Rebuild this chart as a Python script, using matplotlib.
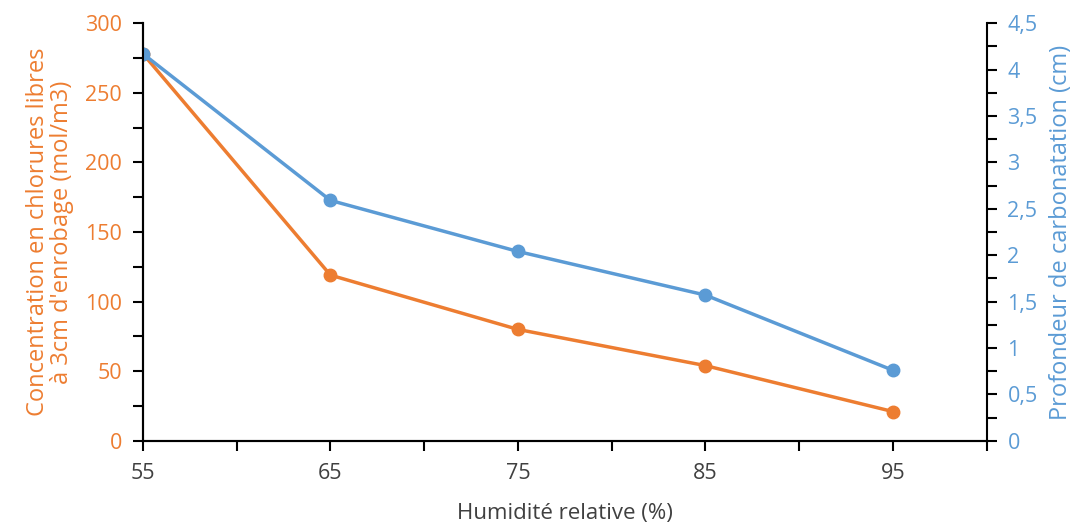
import numpy as np
import matplotlib.pyplot as plt
from matplotlib.ticker import MultipleLocator, FuncFormatter

plt.rcParams['font.family'] = ['Open Sans', 'DejaVu Sans']

humidite = [55, 65, 75, 85, 95]
chlorures = [278, 119, 80, 54, 21]          # mol/m3
carbonatation = [4.17, 2.59, 2.04, 1.57, 0.76]  # cm

orange = "#ED7D31"
bleu = "#5B9BD5"
gris = "#404040"

fig = plt.figure(figsize=(10.83, 5.26), dpi=100)
ax = fig.add_axes([0.132, 0.162, 0.779, 0.794])
ax2 = ax.twinx()

ax.plot(humidite, chlorures, color=orange, lw=2.5, marker="o", ms=9)
ax2.plot(humidite, carbonatation, color=bleu, lw=2.5, marker="o", ms=9)

ax.set_xlim(55, 100)
ax.set_ylim(0, 300)
ax2.set_ylim(0, 4.5)

ax.set_xticks([55, 60, 65, 70, 75, 80, 85, 90, 95, 100])
ax.set_xticklabels(["55", "", "65", "", "75", "", "85", "", "95", ""])
ax.yaxis.set_major_locator(MultipleLocator(50))
ax.yaxis.set_minor_locator(MultipleLocator(25))
ax2.yaxis.set_major_locator(MultipleLocator(0.5))
ax2.yaxis.set_minor_locator(MultipleLocator(0.25))
ax2.yaxis.set_major_formatter(FuncFormatter(lambda v, p: f"{v:g}".replace(".", ",")))

for a in (ax, ax2):
    a.spines["top"].set_visible(False)
    for s in ("left", "right", "bottom"):
        a.spines[s].set_linewidth(1.5)
ax.spines["right"].set_visible(False)

ax.tick_params(axis="x", length=7, width=1.5, colors="black", labelcolor=gris, labelsize=15.5, pad=9)
ax.tick_params(axis="y", which="both", length=7, width=1.5, colors="black", labelcolor=orange, labelsize=15.5, pad=8)
ax2.tick_params(axis="y", which="both", length=7, width=1.5, colors="black", labelcolor=bleu, labelsize=15.5, pad=8)

ax.set_xlabel("Humidité relative (%)", color=gris, fontsize=16, labelpad=14)
ax.set_ylabel("Concentration en chlorures libres\nà 3cm d'enrobage (mol/m3)", color=orange,
              fontsize=17, labelpad=8, linespacing=1.0, multialignment="center")
ax2.set_ylabel("Profondeur de carbonatation (cm)", color=bleu, fontsize=17, labelpad=8)

fig.savefig("out.png", dpi=100)
